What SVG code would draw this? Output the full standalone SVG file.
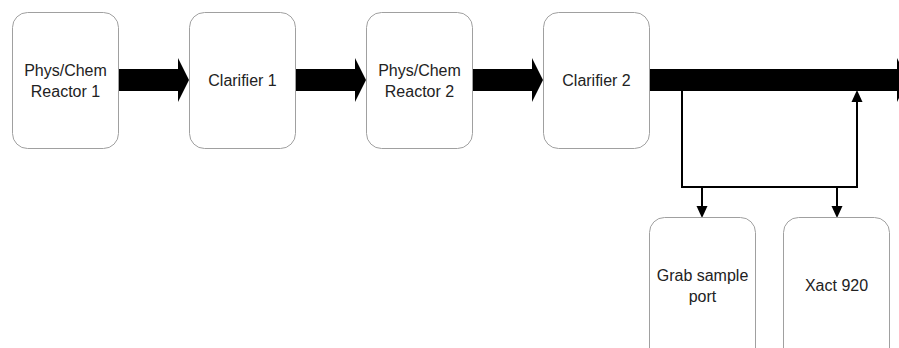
<svg xmlns="http://www.w3.org/2000/svg" width="899" height="348" viewBox="0 0 899 348">
<style>
.box{fill:#fff;stroke:#a0a0a0;stroke-width:1}
.t{font-family:"Liberation Sans",Arial,sans-serif;font-size:16px;fill:#222;text-anchor:middle}
.ln{fill:none;stroke:#000;stroke-width:2}
</style>
<defs>
<marker id="ah" viewBox="0 0 10 10" refX="10" refY="5" markerWidth="10" markerHeight="10" markerUnits="userSpaceOnUse" orient="auto">
<path d="M0,0 L10,5 L0,10 Z" fill="#000"/>
</marker>
</defs>
<rect width="899" height="348" fill="#fff"/>
<g id="connectors">
<path d="M118,69 H178 V58 L189,80 L178,102 V91 H118 Z" fill="#000"/>
<path d="M295,69 H355 V58 L366,80 L355,102 V91 H295 Z" fill="#000"/>
<path d="M472,69 H532 V58 L543,80 L532,102 V91 H472 Z" fill="#000"/>
<path d="M649,69 H897 V58 L908,80 L897,102 V91 H649 Z" fill="#000"/>
<path class="ln" d="M682,91 V187 H857 V101" />
<path d="M851.5,102 L857,90 L862.5,102 Z" fill="#000"/>
<path class="ln" d="M702,187 V207"/>
<path d="M696.5,206 L702,218 L707.5,206 Z" fill="#000"/>
<path class="ln" d="M837,187 V207"/>
<path d="M831.5,206 L837,218 L842.5,206 Z" fill="#000"/>
</g>
<g id="reactor1">
<rect class="box" x="12.5" y="12.5" width="106" height="136" rx="15"/>
<text class="t" x="65.5" y="76">Phys/Chem</text>
<text class="t" x="65.5" y="97">Reactor 1</text>
</g>
<g id="clarifier1">
<rect class="box" x="189.5" y="12.5" width="106" height="136" rx="15"/>
<text class="t" x="242.5" y="86">Clarifier 1</text>
</g>
<g id="reactor2">
<rect class="box" x="366.5" y="12.5" width="106" height="136" rx="15"/>
<text class="t" x="419.5" y="76">Phys/Chem</text>
<text class="t" x="419.5" y="97">Reactor 2</text>
</g>
<g id="clarifier2">
<rect class="box" x="543.5" y="12.5" width="106" height="136" rx="15"/>
<text class="t" x="596.5" y="86">Clarifier 2</text>
</g>
<g id="grab">
<rect class="box" x="649.5" y="217.5" width="106" height="150" rx="15"/>
<text class="t" x="702.5" y="281">Grab sample</text>
<text class="t" x="702.5" y="302">port</text>
</g>
<g id="xact">
<rect class="box" x="783.5" y="217.5" width="106" height="150" rx="15"/>
<text class="t" x="836.5" y="291">Xact 920</text>
</g>
</svg>
